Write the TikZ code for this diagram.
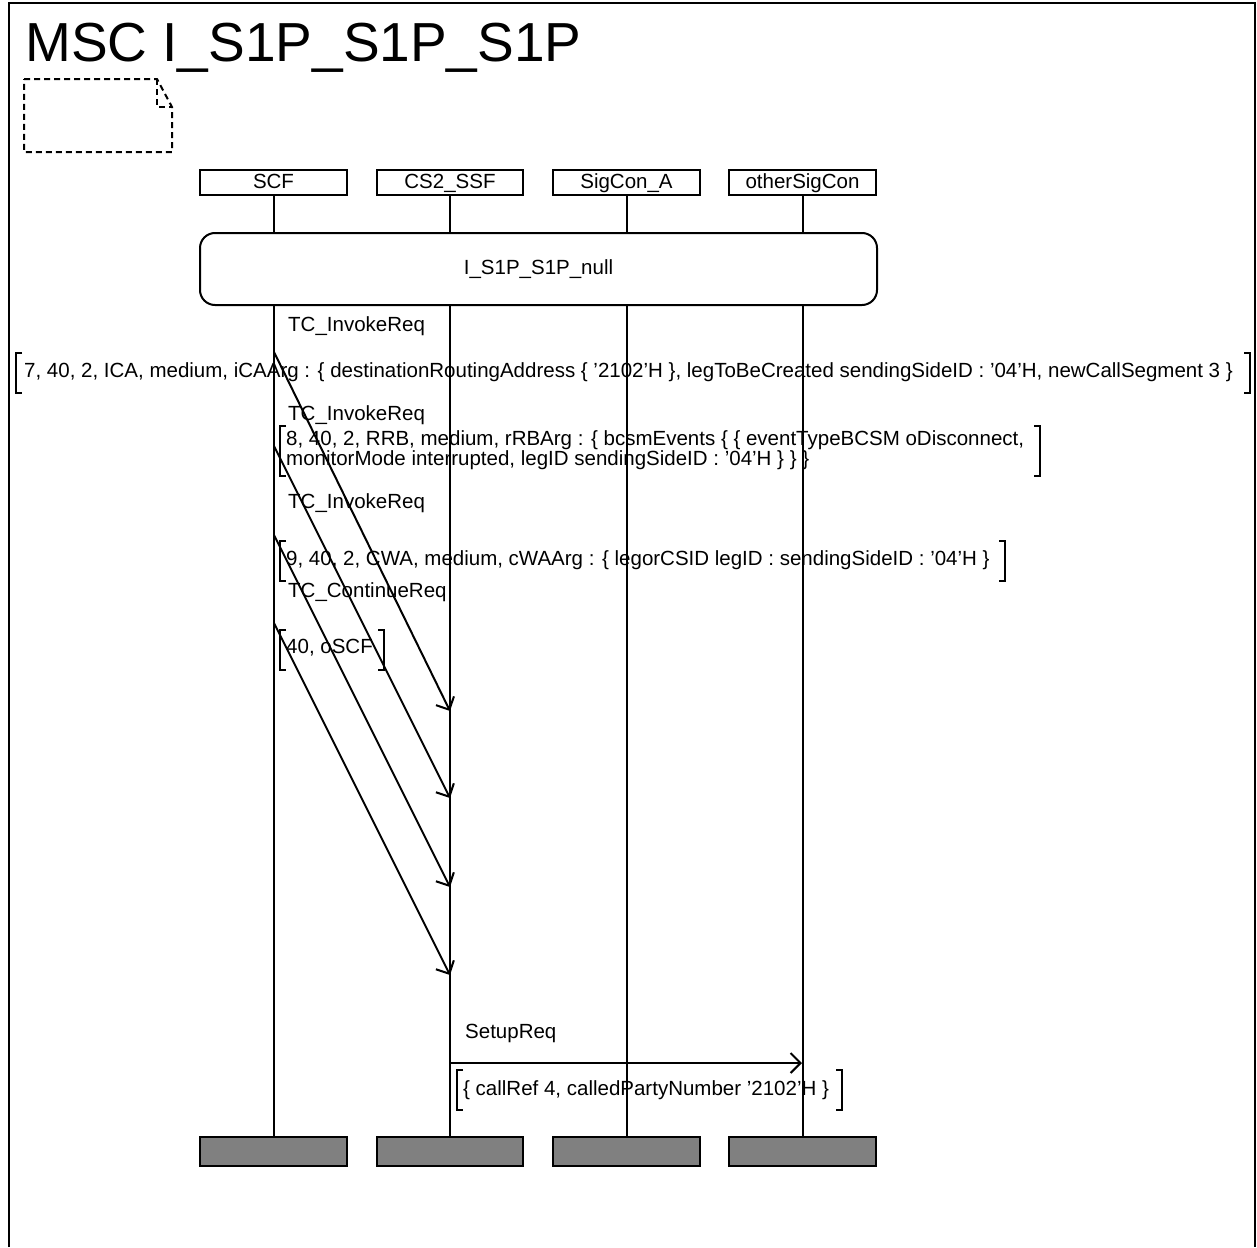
\documentclass[tikz,border=0pt]{standalone}
\usepackage{fontspec}
\setmainfont{Liberation Sans}
\usetikzlibrary{arrows.meta}
\newcommand\msgfont{\fontsize{20.5pt}{19pt}\selectfont}
\newcommand\mscbrk[4]{%
  \draw[lw] (#1+6,#3) -- (#1,#3) -- (#1,#4) -- (#1+6,#4);
  \draw[lw] (#2-6,#3) -- (#2,#3) -- (#2,#4) -- (#2-6,#4);}
\begin{document}
\begin{tikzpicture}[x=1pt,y=-1pt,
  lw/.style={line width=2pt},
  head/.style={draw,line width=2pt,minimum height=25pt,inner sep=0pt,text height=15pt,text depth=4pt,font=\msgfont},
  endbox/.style={draw,fill=black!50,line width=2pt,minimum height=29pt,inner sep=0pt},
  lbl/.style={anchor=west,inner sep=0pt,font=\msgfont},
  msg/.style={line width=2pt,-{Straight Barb[length=10pt,width=20pt,line width=2pt]}},
  cmt/.style={line width=2pt,dash pattern=on 6pt off 4pt}]
\useasboundingbox (0,0) rectangle (1257,1247);
% frame
\draw[lw] (9,1247) -- (9,3) -- (1255,3) -- (1255,1247);
\node[anchor=base west,inner sep=0pt,font=\fontsize{55pt}{60pt}\selectfont] (title) at (25,62) {MSC I\_S1P\_S1P\_S1P};
% comment symbol
\draw[cmt] (24,79) -- (157,79) -- (172,107) -- (172,152) -- (24,152) -- cycle;
\draw[cmt] (157,79) -- (157,107) -- (172,107);
% instance heads
\node[head,minimum width=147pt] (scf) at (273.5,182.5) {SCF};
\node[head,minimum width=146pt] (ssf) at (450,182.5) {CS2\_SSF};
\node[head,minimum width=147pt] (sca) at (626.5,182.5) {SigCon\_A};
\node[head,minimum width=147pt] (osc) at (802.5,182.5) {otherSigCon};
% condition
\node[draw,lw,rounded corners=15pt,minimum width=677pt,minimum height=72pt,inner sep=0pt,font=\msgfont] (cond) at (538.5,269) {I\_S1P\_S1P\_null};
% end boxes
\node[endbox,minimum width=147pt] (scfe) at (273.5,1151.5) {};
\node[endbox,minimum width=146pt] (ssfe) at (450,1151.5) {};
\node[endbox,minimum width=147pt] (scae) at (626.5,1151.5) {};
\node[endbox,minimum width=147pt] (osce) at (802.5,1151.5) {};
% lifelines
\foreach \i/\e in {scf/scfe,ssf/ssfe,sca/scae,osc/osce}{
  \draw[lw] (\i.south) -- (\i.south |- cond.north);
  \draw[lw] (\i.south |- cond.south) -- (\e.north);
}
% messages SCF -> CS2_SSF
\coordinate (a1s) at (274,352); \coordinate (a1e) at (450,711);
\coordinate (a2s) at (274,446); \coordinate (a2e) at (450,798);
\coordinate (a3s) at (274,535); \coordinate (a3e) at (450,887);
\coordinate (a4s) at (274,623); \coordinate (a4e) at (450,975);
\draw[msg] (a1s) -- (a1e);
\draw[msg] (a2s) -- (a2e);
\draw[msg] (a3s) -- (a3e);
\draw[msg] (a4s) -- (a4e);
\node[lbl] (m1) at (288,326) {TC\_InvokeReq};
\node[lbl] (p1) at (24,372) {7, 40, 2, ICA, medium, iCAArg : \{ destinationRoutingAddress \{ '2102'H \}, legToBeCreated sendingSideID : '04'H, newCallSegment 3 \}};
\mscbrk{16}{1250}{353}{393}
\node[lbl] (m2) at (288,415) {TC\_InvokeReq};
\node[lbl,align=left] (p2) at (286,450) {8, 40, 2, RRB, medium, rRBArg : \{ bcsmEvents \{ \{ eventTypeBCSM oDisconnect,\\monitorMode interrupted, legID sendingSideID : '04'H \} \} \}};
\mscbrk{280}{1040}{426}{476}
\node[lbl] (m3) at (288,503) {TC\_InvokeReq};
\node[lbl] (p3) at (286,560) {9, 40, 2, CWA, medium, cWAArg : \{ legorCSID legID : sendingSideID : '04'H \}};
\mscbrk{280}{1005}{541}{581}
\node[lbl] (m4) at (288,592) {TC\_ContinueReq};
\node[lbl] (p4) at (286,648) {40, oSCF};
\mscbrk{280}{384}{630}{670}
% SetupReq
\coordinate (s1s) at (450,1063); \coordinate (s1e) at (802,1063);
\draw[msg] (s1s) -- (s1e);
\node[lbl] (m5) at (465,1033) {SetupReq};
\node[lbl] (p5) at (463,1090) {\{ callRef 4, calledPartyNumber '2102'H \}};
\mscbrk{457}{842}{1070}{1110}
\end{tikzpicture}
\end{document}
